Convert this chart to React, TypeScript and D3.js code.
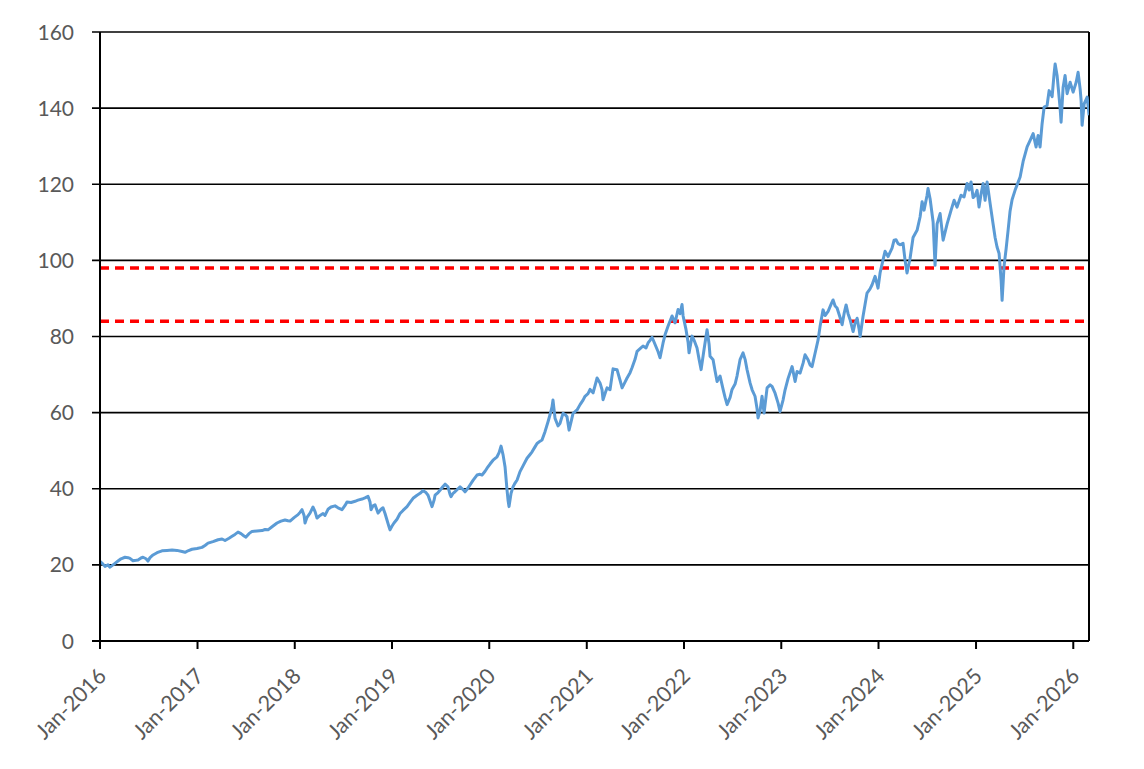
import React from "react";
import * as d3 from "d3";

// ---- data ----
const yearFrac = [
  2016.000, 2016.031, 2016.051, 2016.082, 2016.103, 2016.134, 2016.154, 2016.185, 2016.216, 2016.257,
  2016.288, 2016.308, 2016.339, 2016.370, 2016.391, 2016.421, 2016.442, 2016.473, 2016.493, 2016.514,
  2016.545, 2016.586, 2016.637, 2016.689, 2016.740, 2016.791, 2016.843, 2016.874, 2016.904, 2016.945,
  2016.997, 2017.048, 2017.079, 2017.110, 2017.161, 2017.213, 2017.254, 2017.285, 2017.326, 2017.357,
  2017.387, 2017.418, 2017.449, 2017.480, 2017.500, 2017.531, 2017.562, 2017.613, 2017.665, 2017.696,
  2017.727, 2017.768, 2017.819, 2017.860, 2017.901, 2017.932, 2017.953, 2017.994, 2018.035, 2018.055,
  2018.076, 2018.097, 2018.107, 2018.127, 2018.158, 2018.189, 2018.210, 2018.230, 2018.261, 2018.292,
  2018.312, 2018.343, 2018.374, 2018.415, 2018.446, 2018.487, 2018.518, 2018.538, 2018.580, 2018.621,
  2018.651, 2018.693, 2018.723, 2018.754, 2018.775, 2018.785, 2018.806, 2018.826, 2018.857, 2018.888,
  2018.908, 2018.929, 2018.949, 2018.970, 2018.980, 2019.001, 2019.021, 2019.052, 2019.083, 2019.114,
  2019.155, 2019.186, 2019.217, 2019.258, 2019.289, 2019.319, 2019.350, 2019.371, 2019.402, 2019.412,
  2019.433, 2019.443, 2019.474, 2019.494, 2019.525, 2019.546, 2019.576, 2019.597, 2019.607, 2019.628,
  2019.648, 2019.679, 2019.700, 2019.731, 2019.751, 2019.782, 2019.802, 2019.833, 2019.874, 2019.905,
  2019.926, 2019.957, 2019.977, 2020.008, 2020.039, 2020.080, 2020.101, 2020.121, 2020.142, 2020.162,
  2020.183, 2020.193, 2020.203, 2020.224, 2020.244, 2020.265, 2020.286, 2020.316, 2020.347, 2020.388,
  2020.419, 2020.440, 2020.470, 2020.491, 2020.522, 2020.542, 2020.573, 2020.604, 2020.625, 2020.645,
  2020.655, 2020.676, 2020.707, 2020.727, 2020.758, 2020.779, 2020.799, 2020.820, 2020.840, 2020.861,
  2020.902, 2020.933, 2020.964, 2020.984, 2021.015, 2021.036, 2021.067, 2021.108, 2021.138, 2021.159,
  2021.169, 2021.190, 2021.210, 2021.241, 2021.272, 2021.313, 2021.344, 2021.365, 2021.395, 2021.416,
  2021.447, 2021.467, 2021.498, 2021.519, 2021.550, 2021.580, 2021.611, 2021.632, 2021.652, 2021.673,
  2021.704, 2021.735, 2021.755, 2021.786, 2021.807, 2021.837, 2021.878, 2021.909, 2021.940, 2021.961,
  2021.981, 2021.992, 2022.022, 2022.043, 2022.053, 2022.084, 2022.105, 2022.135, 2022.156, 2022.177,
  2022.207, 2022.238, 2022.259, 2022.269, 2022.300, 2022.320, 2022.341, 2022.372, 2022.403, 2022.423,
  2022.444, 2022.475, 2022.495, 2022.526, 2022.546, 2022.577, 2022.608, 2022.629, 2022.649, 2022.680,
  2022.701, 2022.731, 2022.752, 2022.762, 2022.783, 2022.803, 2022.824, 2022.855, 2022.886, 2022.906,
  2022.937, 2022.968, 2022.988, 2023.019, 2023.040, 2023.071, 2023.112, 2023.143, 2023.163, 2023.194,
  2023.225, 2023.245, 2023.276, 2023.297, 2023.317, 2023.348, 2023.379, 2023.399, 2023.430, 2023.451,
  2023.482, 2023.513, 2023.533, 2023.554, 2023.574, 2023.605, 2023.626, 2023.646, 2023.667, 2023.687,
  2023.708, 2023.739, 2023.759, 2023.780, 2023.800, 2023.811, 2023.841, 2023.862, 2023.882, 2023.913,
  2023.934, 2023.965, 2023.995, 2024.016, 2024.047, 2024.067, 2024.098, 2024.139, 2024.160, 2024.180,
  2024.201, 2024.222, 2024.252, 2024.273, 2024.293, 2024.324, 2024.355, 2024.396, 2024.427, 2024.448,
  2024.468, 2024.499, 2024.509, 2024.530, 2024.561, 2024.581, 2024.602, 2024.633, 2024.664, 2024.705,
  2024.746, 2024.777, 2024.807, 2024.848, 2024.879, 2024.910, 2024.931, 2024.951, 2024.972, 2024.992,
  2025.013, 2025.033, 2025.054, 2025.075, 2025.095, 2025.116, 2025.147, 2025.177, 2025.198, 2025.218,
  2025.239, 2025.260, 2025.270, 2025.290, 2025.311, 2025.332, 2025.352, 2025.373, 2025.403, 2025.434,
  2025.455, 2025.486, 2025.527, 2025.558, 2025.589, 2025.619, 2025.640, 2025.660, 2025.681, 2025.702,
  2025.732, 2025.753, 2025.784, 2025.804, 2025.815, 2025.835, 2025.846, 2025.866, 2025.876, 2025.897,
  2025.917, 2025.938, 2025.969, 2026.000, 2026.031, 2026.051, 2026.072, 2026.082, 2026.092, 2026.113,
  2026.144, 2026.164,
];

const price = [
  20.9, 20.2, 19.6, 20.0, 19.4, 20.0, 20.4, 21.0, 21.6, 22.0,
  21.9, 21.7, 21.1, 21.2, 21.3, 21.8, 22.0, 21.6, 21.0, 21.9,
  22.6, 23.2, 23.7, 23.8, 23.9, 23.8, 23.5, 23.3, 23.7, 24.1,
  24.3, 24.6, 25.1, 25.7, 26.1, 26.6, 26.8, 26.4, 27.0, 27.5,
  28.0, 28.6, 28.2, 27.6, 27.3, 28.2, 28.8, 28.9, 29.0, 29.3,
  29.2, 30.0, 31.0, 31.5, 31.8, 31.6, 31.5, 32.4, 33.2, 33.8,
  34.5, 33.0, 31.0, 32.5, 33.6, 35.2, 34.0, 32.3, 33.0, 33.5,
  33.0, 34.6, 35.2, 35.5, 35.0, 34.5, 35.6, 36.5, 36.4, 36.7,
  37.0, 37.3, 37.6, 38.0, 36.5, 34.5, 35.5, 35.8, 33.6, 34.6,
  35.0, 33.5, 31.8, 30.0, 29.2, 30.2, 31.0, 32.0, 33.5, 34.3,
  35.3, 36.4, 37.5, 38.3, 38.8, 39.5, 39.0, 38.3, 36.0, 35.3,
  37.0, 38.3, 39.0, 39.6, 40.6, 41.2, 40.5, 38.5, 37.9, 38.8,
  39.2, 40.0, 40.5, 39.8, 39.2, 40.2, 41.0, 42.2, 43.6, 43.8,
  43.6, 44.6, 45.4, 46.5, 47.5, 48.4, 49.5, 51.2, 48.9, 45.8,
  39.6, 37.0, 35.3, 38.8, 40.5, 41.5, 42.3, 44.5, 46.0, 48.0,
  49.0, 49.7, 51.0, 51.9, 52.5, 52.8, 55.0, 57.6, 59.5, 61.5,
  63.3, 58.5, 56.5, 57.2, 59.8, 59.5, 58.9, 55.4, 57.5, 59.8,
  60.7, 62.1, 63.3, 64.3, 65.0, 66.1, 65.2, 69.1, 67.8, 66.0,
  63.4, 65.0, 66.5, 66.0, 71.5, 71.3, 68.5, 66.5, 68.0, 69.1,
  70.5, 71.8, 74.0, 76.1, 76.8, 77.5, 77.0, 78.3, 79.0, 79.8,
  77.9, 76.0, 74.4, 78.3, 80.5, 82.7, 85.4, 83.6, 87.1, 86.0,
  88.4, 85.4, 81.8, 78.5, 75.7, 80.1, 79.0, 77.0, 74.0, 71.3,
  76.6, 81.8, 78.0, 74.8, 73.9, 71.0, 68.2, 69.6, 66.1, 64.0,
  62.1, 64.0, 66.1, 67.5, 69.6, 73.9, 75.7, 74.0, 71.3, 67.8,
  66.0, 64.3, 61.0, 58.6, 60.5, 64.3, 59.9, 66.5, 67.3, 66.9,
  65.1, 62.5, 60.3, 63.3, 66.0, 69.0, 72.1, 68.2, 70.8, 70.4,
  73.0, 75.2, 73.9, 72.5, 72.1, 75.6, 79.1, 82.6, 87.0, 85.5,
  86.6, 88.5, 89.6, 88.0, 87.5, 85.0, 83.1, 86.0, 88.3, 86.0,
  84.4, 81.3, 83.5, 84.8, 82.0, 80.0, 85.3, 88.5, 91.4, 92.5,
  93.6, 95.8, 92.7, 96.7, 100.2, 102.4, 101.0, 103.2, 105.3, 105.4,
  104.4, 104.1, 104.5, 100.0, 96.7, 100.5, 106.0, 107.9, 111.4, 115.4,
  113.2, 117.1, 118.9, 116.2, 110.1, 98.7, 109.6, 112.3, 105.3, 109.6,
  113.2, 115.8, 114.0, 117.1, 116.7, 120.2, 118.5, 120.6, 116.5, 117.0,
  118.4, 114.0, 117.5, 120.2, 115.8, 120.6, 114.9, 109.6, 106.0, 103.5,
  101.8, 94.7, 89.5, 98.5, 103.0, 108.0, 113.0, 116.0, 118.4, 120.5,
  121.9, 126.0, 129.8, 131.5, 133.3, 129.8, 132.8, 129.8, 135.9, 140.3,
  140.7, 144.6, 143.0, 149.0, 151.6, 148.6, 145.5, 140.0, 136.3, 145.5,
  148.6, 143.8, 146.8, 144.2, 146.8, 149.4, 145.0, 142.0, 135.5, 141.1,
  142.9, 138.1,
];

const yTicks = [0, 20, 40, 60, 80, 100, 120, 140, 160];
const xTickYears = [2016, 2017, 2018, 2019, 2020, 2021, 2022, 2023, 2024, 2025, 2026];
const refLevels = [98, 84];
const startDate = "2016-01-01";
const endDate = "2026-03-01";

// ---- layout ----
const W = 1144;
const H = 769;
const left = 100;
const right = 1089;
const top = 32;
const bottom = 641;

const DAY = 864e5;
const toDate = (y: number) =>
  new Date(Date.UTC(2016, 0, 1) + (y - 2016) * 365.25 * DAY);

const monthFmt = d3.utcFormat("%b-%Y");

export default function App() {
  const x = d3
    .scaleUtc()
    .domain([new Date(startDate + "T00:00:00Z"), new Date(endDate + "T00:00:00Z")])
    .range([left, right]);
  const y = d3.scaleLinear().domain([0, 160]).range([bottom, top]);

  const points = yearFrac.map((t, i) => ({ d: toDate(t), v: price[i] }));
  const line = d3
    .line<{ d: Date; v: number }>()
    .x((p) => x(p.d))
    .y((p) => y(p.v));

  const font = "Lato, 'Open Sans', 'Liberation Sans', sans-serif";
  const txt = "#595959";

  return (
    <svg
      width={W}
      height={H}
      style={{ position: "absolute", left: 0, top: 0, background: "#fff" }}
    >
      <defs>
        <clipPath id="plot">
          <rect x={left} y={top - 5} width={right - left} height={bottom - top + 10} />
        </clipPath>
      </defs>
      {/* gridlines */}
      {yTicks.slice(1).map((t) => (
        <line
          key={"g" + t}
          x1={left - 8}
          x2={right}
          y1={y(t)}
          y2={y(t)}
          stroke="#000"
          strokeWidth={1.6}
        />
      ))}
      {/* right border */}
      <line x1={right} x2={right} y1={top} y2={bottom} stroke="#000" strokeWidth={2} />
      {/* reference dashed levels */}
      {refLevels.map((lv) => (
        <line
          key={"r" + lv}
          x1={left}
          x2={right}
          y1={y(lv)}
          y2={y(lv)}
          stroke="#ff0000"
          strokeWidth={3.5}
          strokeDasharray="9 6"
        />
      ))}
      {/* series */}
      <path
        d={line(points) || ""}
        fill="none"
        stroke="#5b9bd5"
        strokeWidth={3}
        strokeLinejoin="round"
        clipPath="url(#plot)"
      />
      {/* axes */}
      <line x1={left} x2={left} y1={top} y2={bottom} stroke="#000" strokeWidth={2} />
      <line x1={left - 8} x2={right} y1={bottom} y2={bottom} stroke="#000" strokeWidth={2} />
      {yTicks.map((t) => (
        <text
          key={"yl" + t}
          x={74}
          y={y(t)}
          dy="0.36em"
          textAnchor="end"
          fontFamily={font}
          fontSize={21}
          fill={txt}
        >
          {t}
        </text>
      ))}
      {xTickYears.map((yr) => {
        const d = new Date(Date.UTC(yr, 0, 1));
        const px = x(d);
        return (
          <g key={"x" + yr}>
            <line x1={px} x2={px} y1={bottom} y2={bottom + 8} stroke="#000" strokeWidth={2} />
            <text
              transform={`translate(${px + 2},${bottom + 31}) rotate(-45)`}
              textAnchor="end"
              dy="0.36em"
              fontFamily={font}
              fontSize={21.5}
              fill={txt}
            >
              {monthFmt(d)}
            </text>
          </g>
        );
      })}
    </svg>
  );
}
